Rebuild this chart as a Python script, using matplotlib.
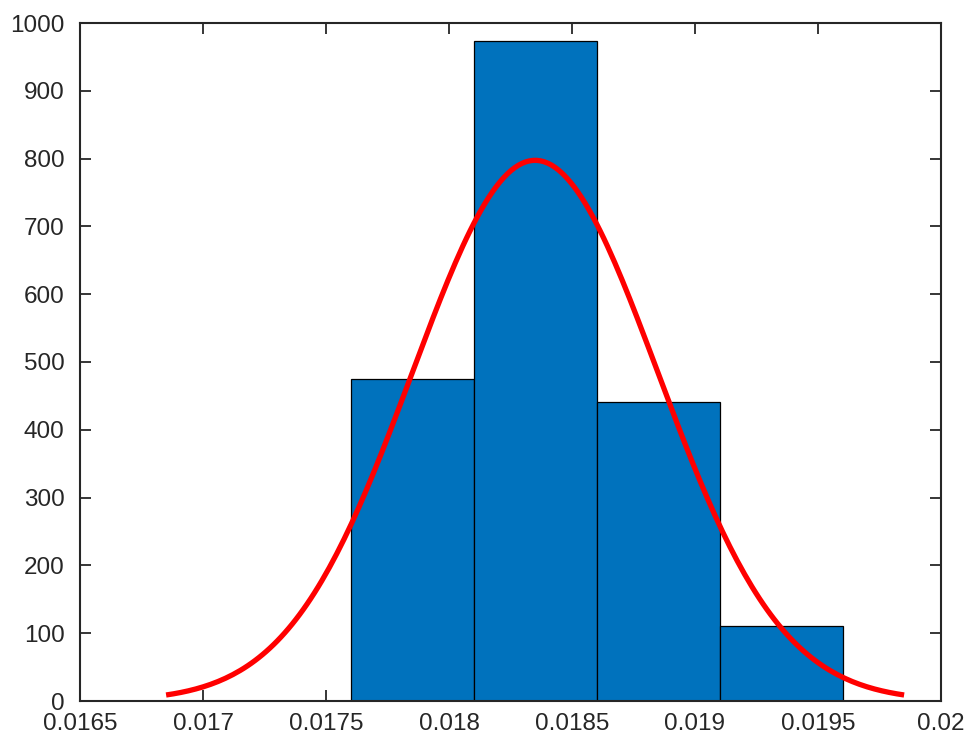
import numpy as np
import matplotlib
matplotlib.use("Agg")
import matplotlib.pyplot as plt

# Histogram data (bin edges and counts)
bin_edges = [0.0176, 0.0181, 0.0186, 0.0191, 0.0196]
counts = [475, 973, 441, 110]

# Fitted normal curve parameters (histfit style)
fit_mu = 0.01835
fit_sigma = 0.0005
fit_n = 1999
fit_binwidth = 0.0005

xticks = [0.0165, 0.017, 0.0175, 0.018, 0.0185, 0.019, 0.0195, 0.02]
xtick_labels = ["0.0165", "0.017", "0.0175", "0.018", "0.0185", "0.019", "0.0195", "0.02"]
yticks = [0, 100, 200, 300, 400, 500, 600, 700, 800, 900, 1000]

plt.rcParams['font.family'] = ['Liberation Sans', 'DejaVu Sans']

fig = plt.figure(figsize=(9.73, 7.42), dpi=100)
ax = fig.add_axes([80/973, 41/742, (941-80)/973, (701-23)/742])

lefts = bin_edges[:-1]
widths = np.diff(bin_edges)
ax.bar(lefts, counts, width=widths, align='edge', color='#0072BD',
       edgecolor='black', linewidth=0.9, zorder=2)

xs = np.linspace(fit_mu - 3 * fit_sigma, fit_mu + 3 * fit_sigma, 200)
ys = fit_n * fit_binwidth / (fit_sigma * np.sqrt(2 * np.pi)) * np.exp(-0.5 * ((xs - fit_mu) / fit_sigma) ** 2)
ax.plot(xs, ys, color='#FF0000', linewidth=3.8, zorder=3, solid_capstyle='butt')

ax.set_xlim(0.0165, 0.02)
ax.set_ylim(0, 1000)
ax.set_xticks(xticks)
ax.set_xticklabels(xtick_labels)
ax.set_yticks(yticks)

dark = '#262626'
for s in ax.spines.values():
    s.set_linewidth(1.5)
    s.set_color(dark)
ax.tick_params(direction='in', length=8, width=1.3, colors=dark,
               labelsize=17.5, top=True, right=True)
ax.tick_params(axis='x', pad=9)
ax.tick_params(axis='y', pad=11)
for lab in ax.get_xticklabels() + ax.get_yticklabels():
    lab.set_color(dark)

fig.savefig("out.png", dpi=100)
